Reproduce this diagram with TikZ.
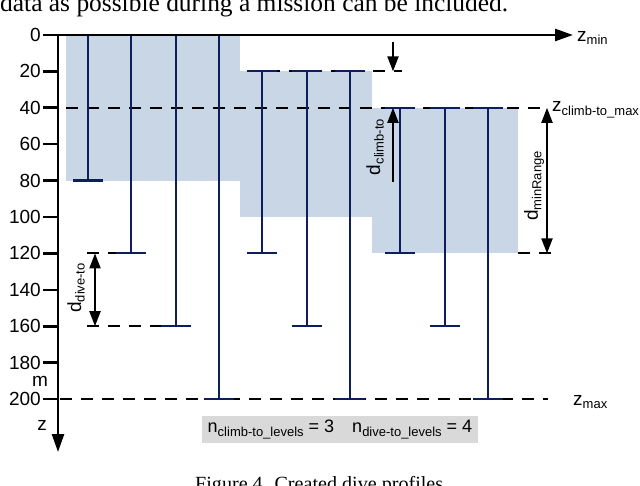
\documentclass[tikz,border=0pt]{standalone}
\usepackage{fontspec}
\setmainfont{Liberation Sans}
\newfontfamily\seriffam{Liberation Serif}
\usetikzlibrary{arrows.meta}
\definecolor{navy}{RGB}{12,30,92}
\definecolor{regionblue}{RGB}{200,214,230}
\definecolor{boxgrey}{RGB}{217,217,217}
\newcommand\lsub[1]{\raisebox{-0.35ex}{\fontsize{13}{13}\selectfont #1}}
\begin{document}
\begin{tikzpicture}[x=1pt,y=-1pt,
  lbl/.style={font=\fontsize{19}{19}\selectfont, inner sep=0pt},
  bar/.style={navy, line width=2.2pt},
  dline/.style={black, line width=2.2pt, dash pattern=on 12pt off 9pt},
  axisline/.style={black, line width=2.6pt},
  dimarrow/.style={black, line width=2pt, {Triangle[length=15pt,width=11pt]}-{Triangle[length=15pt,width=11pt]}},
]
\useasboundingbox (0,0) rectangle (640,486);
\clip (0,0) rectangle (640,486);

% text above and caption below (cut by the frame, as in the source)
\node[anchor=base west, inner sep=0pt] (toptext) at (0,12) {\resizebox{508pt}{!}{\seriffam data as possible during a mission can be included.}};
\node[anchor=base west, inner sep=0pt] (caption) at (195,490.5) {\resizebox{248pt}{!}{\seriffam Figure 4. Created dive profiles}};

% shaded ranges
\fill[regionblue] (66,35) rectangle (240,180.6);
\fill[regionblue] (240,71.4) rectangle (372,217);
\fill[regionblue] (372,107.8) rectangle (518,253.4);

% dashed level lines
\draw[dline] (247,71.4) -- (402,71.4);
\draw[dline] (66,107.8) -- (547,107.8);
\draw[dline] (87,253.4) -- (118,253.4);
\draw[dline] (518,253.4) -- (555,253.4);
\draw[dline] (87,326.2) -- (162,326.2);
\draw[dline] (60,399) -- (548,399);

% dive profiles
\foreach \x/\t/\b in {88/35/180.6, 131/35/253.4, 176/35/326.2, 219/35/399,
                      262/71.4/253.4, 307/71.4/326.2, 350/71.4/399,
                      400/107.8/253.4, 445/107.8/326.2, 488/107.8/399} {
  \draw[bar] (\x,\t) -- (\x,\b);
  \draw[bar] (\x-15,\b) -- (\x+15,\b);
  \draw[bar] (\x-15,\t) -- (\x+15,\t);
}

% axes
\foreach \d in {0,20,...,200} {
  \draw[axisline] (43,{35+1.82*\d}) -- (58,{35+1.82*\d});
  \node[lbl, anchor=east] at (41,{35+1.82*\d}) {\d};
}
\coordinate (origin) at (58,35);
\coordinate (zend) at (58,452);
\coordinate (xstart) at (43,35);
\coordinate (xend) at (573,35);
\draw[axisline, -{Triangle[length=18pt,width=12pt]}] (origin) -- (zend);
\draw[axisline, -{Triangle[length=18pt,width=12pt]}] (xstart) -- (xend);

\node[lbl, anchor=west] (zmin) at (577,38) {z\lsub{min}};
\node[lbl, anchor=west] (zclimb) at (552,110) {z\lsub{climb-to\_max}};
\node[lbl, anchor=west] (zmax) at (573,402) {z\lsub{max}};
\node[lbl] (mlab) at (40,381) {m};
\node[lbl] (zlab) at (42,425) {z};

% d_dive-to
\coordinate (dv1) at (95,253.4);
\coordinate (dv2) at (95,326.2);
\draw[dimarrow] (dv1) -- (dv2);
\node[lbl, rotate=90] (ddive) at (76,288) {d\lsub{dive-to}};

% d_climb-to
\coordinate (c0) at (393,42);
\coordinate (c1) at (393,71.4);
\coordinate (c2) at (393,182);
\coordinate (c3) at (393,107.8);
\draw[black, line width=2pt, -{Triangle[length=15pt,width=11pt]}] (c0) -- (c1);
\draw[black, line width=2pt, -{Triangle[length=15pt,width=11pt]}] (c2) -- (c3);
\node[lbl, rotate=90] (dclimb) at (375,147) {d\lsub{climb-to}};

% d_minRange
\coordinate (m1) at (547,107.8);
\coordinate (m2) at (547,253.4);
\draw[dimarrow] (m1) -- (m2);
\node[lbl, rotate=90] (dminr) at (534,186) {d\lsub{minRange}};

% levels box
\fill[boxgrey] (202,416) rectangle (478,443);
\node[inner sep=0pt, font=\fontsize{18}{18}\selectfont] (levels) at (340,429.5)
  {n\lsub{climb-to\_levels} = 3\hspace{18pt}n\lsub{dive-to\_levels} = 4};
\end{tikzpicture}
\end{document}
